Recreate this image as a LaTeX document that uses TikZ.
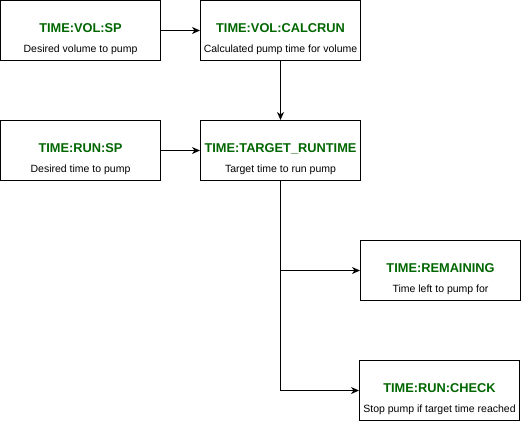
\documentclass[tikz,border=0pt]{standalone}
\usepackage{fontspec}
\setmainfont{Liberation Sans}
\usetikzlibrary{arrows.meta}
\definecolor{ttl}{HTML}{006600}
\tikzset{
  blk/.style={draw, line width=1pt, minimum width=160pt, minimum height=60pt, inner sep=0pt},
  conn/.style={line width=1pt, -{Stealth[length=8pt,width=7pt,inset=2.5pt]}},
  ttltext/.style={font=\fontsize{12.8pt}{14pt}\selectfont\bfseries, text=ttl, anchor=base, inner sep=0pt},
  subtext/.style={font=\fontsize{10.5pt}{12pt}\selectfont, anchor=base, inner sep=0pt},
}
\begin{document}
\begin{tikzpicture}[x=1pt,y=-1pt]
\useasboundingbox (0,0) rectangle (521,421);
\node[blk] (volsp) at (80.5,30.5) {};
\node[blk] (calc) at (280.5,30.5) {};
\node[blk] (runsp) at (80.5,150.5) {};
\node[blk] (target) at (280.5,150.5) {};
\node[blk] (rem) at (440.5,270.5) {};
\node[blk] (check) at (439.5,390.5) {};
\foreach \n/\a/\b in {volsp/TIME:VOL:SP/Desired volume to pump,
  calc/TIME:VOL:CALCRUN/Calculated pump time for volume,
  runsp/TIME:RUN:SP/Desired time to pump,
  target/TIME:TARGET\_RUNTIME/Target time to run pump,
  rem/TIME:REMAINING/Time left to pump for,
  check/TIME:RUN:CHECK/Stop pump if target time reached}{
  \node[ttltext] (\n-t) at ([yshift=-1.5pt]\n.center) {\a};
  \node[subtext] (\n-s) at ([yshift=-21.5pt]\n.center) {\b};
}
\draw[conn] (volsp.east) -- (calc.west);
\draw[conn] (calc.south) -- (target.north);
\draw[conn] (runsp.east) -- (target.west);
\draw[conn] (target.south) |- (rem.west);
\draw[conn] (target.south) |- (check.west);
\end{tikzpicture}
\end{document}
